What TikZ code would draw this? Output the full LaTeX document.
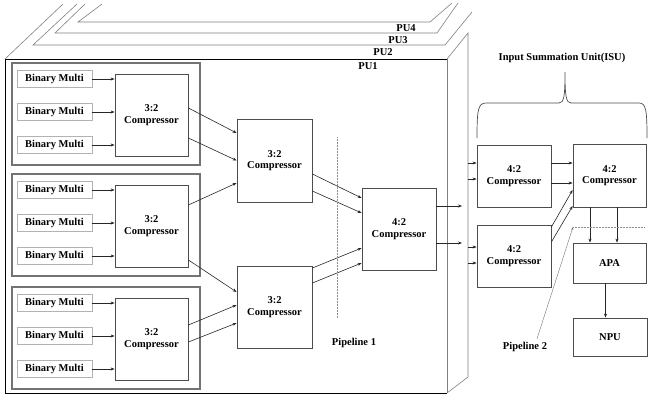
\documentclass[tikz,border=0pt]{standalone}
\usepackage{fontspec}
\setmainfont{Liberation Serif}
\usetikzlibrary{arrows.meta}

\begin{document}
\begin{tikzpicture}[x=1pt,y=-1pt,
    every node/.style={font=\bfseries\fontsize{10.5}{11.5}\selectfont},
    unit/.style={draw=black!70,line width=0.8pt,align=center,inner sep=0pt},
    multbox/.style={draw=black!30,line width=0.9pt,minimum width=75pt,minimum height=17pt,inner sep=0pt},
    grp/.style={draw=black!55,line width=1.1pt},
    layer/.style={draw=black!50,line width=0.6pt},
    conn/.style={-{Stealth[length=4pt,width=3pt]},line width=0.6pt,draw=black!85},
    cut/.style={densely dotted,draw=black!45,line width=0.5pt}]
  \useasboundingbox (0,0) rectangle (648,394);

  % the processing units behind the front one
  \draw[layer] (102,4) -- (78,22) -- (430,22) -- (452,3);
  \draw[layer] (85,4) -- (55,33) -- (437,33) -- (458,3);
  \draw[layer] (77,4) -- (33,45) -- (445,45) -- (472,12);
  \coordinate (rear) at (468,33);
  \draw[layer] (63,4) -- (5,59);
  \draw[layer] (447,59) -- (rear) -- (468,377) -- (447,393);
  \draw[line width=0.8pt] (447,59) -- (5,59) -- (5,393) -- (447,393);
  \draw[layer] (447,59) -- (447,393);

  \node (pu4) at (406,28) {PU4};
  \node (pu3) at (398,40) {PU3};
  \node (pu2) at (383,52) {PU2};
  \node (pu1) at (368,66) {PU1};

  % three groups of multipliers
  \foreach \g/\cy in {1/115,2/226,3/339}{
    \draw[grp] (12,\cy-52) rectangle (200,\cy+50);
    \node[unit,minimum width=73pt,minimum height=82pt] (c\g) at (151.5,\cy) {3:2\\Compressor};
    \foreach \k/\dy in {1/-36,2/-3,3/30}{
      \node[multbox] (b\g\k) at (54.5,\cy+\dy) {Binary Multi};
      \draw[conn] (b\g\k.east) -- (b\g\k.east -| c\g.west);
    }
  }

  \node[unit,minimum width=75pt,minimum height=83pt] (m1) at (274.5,160.5) {3:2\\Compressor};
  \node[unit,minimum width=75pt,minimum height=82pt] (m2) at (274.5,307) {3:2\\Compressor};
  \node[unit,minimum width=74pt,minimum height=82pt] (f) at (399,229) {4:2\\Compressor};

  \draw[conn] ([yshift=7pt]c1.east) -- ([yshift=27.5pt]m1.west);
  \draw[conn] ([yshift=-23pt]c1.east) -- (m1.west);
  \draw[conn] ([yshift=21pt]c2.east) -- ([yshift=-22.5pt]m1.west);
  \draw[conn] ([yshift=-34pt]c2.east) -- ([yshift=15pt]m2.west);
  \draw[conn] ([yshift=14pt]c3.east) -- ([yshift=2pt]m2.west);
  \draw[conn] ([yshift=-3pt]c3.east) -- ([yshift=-16pt]m2.west);

  \draw[conn] ([yshift=-13.5pt]m1.east) -- ([yshift=31pt]f.west);
  \draw[conn] ([yshift=-30.5pt]m1.east) -- ([yshift=16pt]f.west);
  \draw[conn] ([yshift=39pt]m2.east) -- ([yshift=-19pt]f.west);
  \draw[conn] ([yshift=24pt]m2.east) -- ([yshift=-34pt]f.west);

  \coordinate (o1) at (462,206);
  \coordinate (o2) at (462,243);
  \draw[conn] ([yshift=23pt]f.east) -- (o1);
  \draw[conn] ([yshift=-14pt]f.east) -- (o2);

  \draw[cut] (337,137) -- (337,318);
  \node (p1) at (354,343) {Pipeline 1};

  % input summation unit
  \node[unit,minimum width=74pt,minimum height=62pt] (isa) at (514,176) {4:2\\Compressor};
  \node[unit,minimum width=74pt,minimum height=62pt] (isb) at (514,256) {4:2\\Compressor};
  \node[unit,minimum width=73pt,minimum height=63pt] (isc) at (609.5,175.5) {4:2\\Compressor};
  \node[unit,minimum width=73pt,minimum height=40pt] (apa) at (609.5,263) {APA};
  \node[unit,minimum width=74pt,minimum height=38pt] (npu) at (610,337) {NPU};

  \foreach \s in {13,-3}
    \draw[conn] ([yshift=\s pt]isa.west -| rear) -- ([yshift=\s pt]isa.west);
  \foreach \s in {9,-7}
    \draw[conn] ([yshift=\s pt]isb.west -| rear) -- ([yshift=\s pt]isb.west);
  \foreach \s in {13,-7}
    \draw[conn] ([yshift=\s pt]isa.east) -- ([yshift=\s pt]isa.east -| isc.west);
  \draw[conn] ([yshift=29pt]isb.east) -- ([yshift=-14.5pt]isc.west);
  \draw[conn] ([yshift=14pt]isb.east) -- ([yshift=-30.5pt]isc.west);
  \foreach \s in {-19.5,7.5}
    \draw[conn] ([xshift=\s pt]isc.south) -- ([xshift=\s pt]isc.south |- apa.north);
  \draw[conn] ([xshift=-4pt]apa.south) -- ([xshift=-4pt]apa.south |- npu.north);

  \coordinate (cut2) at (573,227);
  \draw[cut] (cut2) -- (645,227);
  \node (p2) at (525,347) {Pipeline 2};
  \draw[-{Stealth[length=3pt,width=2pt]},draw=black!55,line width=0.4pt] ([xshift=12pt]p2.north) -- (cut2);

  % brace over the unit
  \draw[black!70,line width=0.7pt] (477,138) .. controls (477,110) and (478,103) .. (486,103)
    -- (559,103) .. controls (564,103) and (565,96) .. (565,72)
    .. controls (565,96) and (566,103) .. (571,103) -- (639,103)
    .. controls (646,103) and (647,110) .. (647,138);
  \node (isu) at (562,58) {Input Summation Unit(ISU)};
\end{tikzpicture}
\end{document}
